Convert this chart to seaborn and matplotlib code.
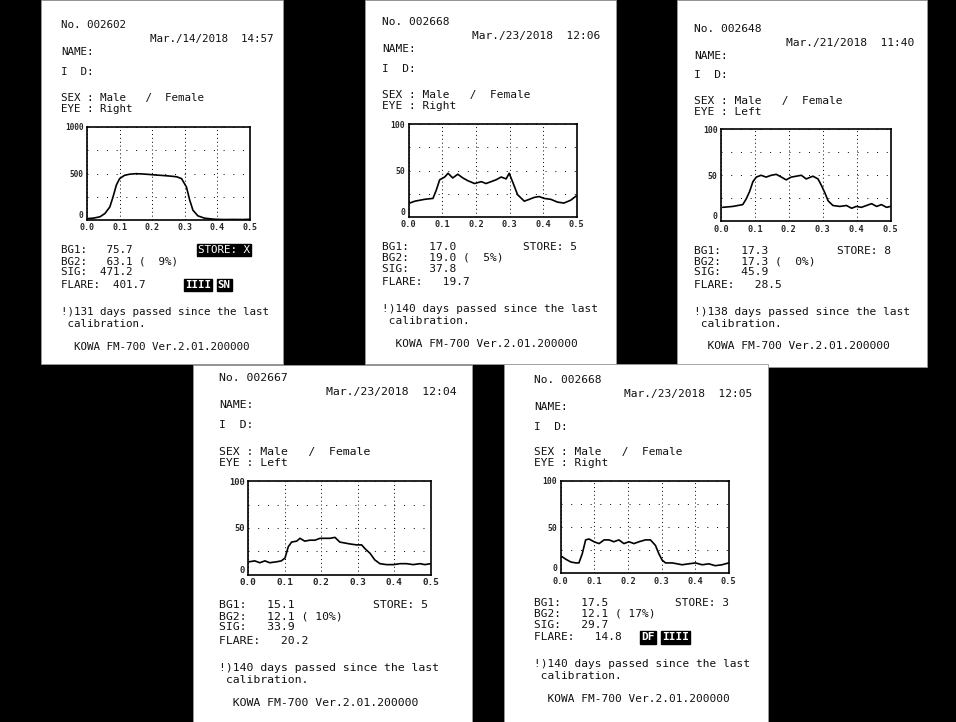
import matplotlib
matplotlib.use("Agg")
import matplotlib.pyplot as plt
from matplotlib.patches import Rectangle
import seaborn as sns
import pandas as pd

W, H = 956, 722

# ---- printout records -------------------------------------------------------
record_no = ["002602", "002668", "002648", "002667", "002668"]
stamps = ["Mar./14/2018  14:57", "Mar./23/2018  12:06", "Mar./21/2018  11:40",
          "Mar./23/2018  12:04", "Mar./23/2018  12:05"]
eyes = ["Right", "Right", "Left", "Left", "Right"]
bg1 = [75.7, 17.0, 17.3, 15.1, 17.5]
bg2 = [63.1, 19.0, 17.3, 12.1, 12.1]
bg2_pct = [9, 5, 0, 10, 17]
sig = [471.2, 37.8, 45.9, 33.9, 29.7]
flare = [401.7, 19.7, 28.5, 20.2, 14.8]
store = ["X", "5", "8", "5", "3"]
days_since_cal = [131, 140, 138, 140, 140]
y_max = [1000, 100, 100, 100, 100]
x_ticks = [0.0, 0.1, 0.2, 0.3, 0.4, 0.5]
x_tick_labels = ["0.0", "0.1", "0.2", "0.3", "0.4", "0.5"]

# ---- scan traces (time in s, photon count) ----------------------------------
t1 = [0.0, 0.02, 0.04, 0.055, 0.07, 0.08, 0.09, 0.10, 0.115, 0.13, 0.15, 0.17,
      0.19, 0.21, 0.235, 0.255, 0.275, 0.29, 0.305, 0.315, 0.325, 0.34, 0.36,
      0.39, 0.42, 0.45, 0.48, 0.5]
c1 = [15, 20, 35, 70, 140, 250, 375, 445, 480, 492, 498, 495, 490, 484, 478,
      472, 465, 445, 355, 215, 105, 45, 20, 8, 5, 6, 5, 8]

t2 = [0.003, 0.018, 0.047, 0.072, 0.082, 0.092, 0.107, 0.117, 0.131, 0.146,
      0.161, 0.176, 0.196, 0.216, 0.230, 0.245, 0.260, 0.275, 0.290, 0.299,
      0.309, 0.324, 0.344, 0.359, 0.373, 0.388, 0.403, 0.423, 0.443, 0.462,
      0.482, 0.5]
c2 = [15, 17, 19, 20, 29, 40, 43, 47, 42, 46, 42, 39, 36, 38, 36, 38, 40, 43,
      41, 47, 38, 24, 17, 19, 21, 22, 20, 19, 16, 15, 18, 23]

t3 = [0.005, 0.035, 0.064, 0.074, 0.084, 0.094, 0.104, 0.118, 0.133, 0.148,
      0.163, 0.178, 0.192, 0.207, 0.222, 0.237, 0.251, 0.271, 0.286, 0.296,
      0.306, 0.316, 0.330, 0.350, 0.370, 0.385, 0.399, 0.414, 0.429, 0.444,
      0.459, 0.473, 0.488, 0.5]
c3 = [15, 16, 18, 24, 32, 43, 48, 50, 48, 50, 51, 48, 45, 48, 49, 50, 46, 49,
      46, 39, 31, 22, 17, 16, 17, 14, 16, 15, 17, 19, 16, 18, 15, 16]

t4 = [0.003, 0.018, 0.032, 0.046, 0.059, 0.078, 0.091, 0.101, 0.110, 0.119,
      0.133, 0.142, 0.155, 0.169, 0.183, 0.197, 0.210, 0.224, 0.238, 0.251,
      0.265, 0.279, 0.297, 0.311, 0.320, 0.334, 0.347, 0.361, 0.379, 0.398,
      0.416, 0.434, 0.452, 0.471, 0.484, 0.5]
c4 = [14, 15, 13, 15, 13, 14, 15, 18, 30, 35, 36, 39, 36, 37, 37, 39, 39, 39,
      40, 35, 34, 33, 32, 32, 28, 23, 16, 12, 11, 11, 12, 12, 11, 12, 11, 12]

t5 = [0.003, 0.015, 0.030, 0.045, 0.054, 0.064, 0.074, 0.084, 0.099, 0.114,
      0.129, 0.144, 0.158, 0.173, 0.188, 0.203, 0.218, 0.233, 0.252, 0.267,
      0.282, 0.292, 0.302, 0.312, 0.332, 0.347, 0.361, 0.381, 0.401, 0.421,
      0.441, 0.460, 0.480, 0.5]
c5 = [18, 15, 12, 11, 11, 21, 36, 37, 34, 32, 36, 36, 34, 36, 32, 34, 32, 34,
      36, 36, 30, 21, 14, 11, 11, 10, 9, 10, 11, 9, 10, 8, 9, 11]

traces = [(t1, c1), (t2, c2), (t3, c3), (t4, c4), (t5, c5)]

# reverse-video marks printed on the FLARE row: (column, text)
flare_badges = [[(19, "IIII"), (24, "SN")], [], [], [], [(16, "DF"), (19, "IIII")]]

# ---- sheet geometry (pixels, y from top) ------------------------------------
sheets = [(41, 0, 283, 364), (365, 0, 616, 364), (677, 0, 927, 367),
          (193, 365, 472, 722), (504, 364, 768, 722)]
# anchor of the "No." line and horizontal / vertical scale of each photo
anchors = [(61, 25, 1.00, 1.00), (382, 22, 1.03, 1.00), (694, 29, 1.04, 0.985),
           (219, 378, 1.12, 1.01), (534, 380, 1.03, 0.99)]

sns.set_style("white")
plt.rcParams["font.family"] = ["DejaVu Sans Mono", "DejaVu Sans"]

fig = plt.figure(figsize=(W / 100, H / 100), dpi=100, facecolor="black")

for (x0, y0, x1, y1) in sheets:
    fig.patches.append(Rectangle((x0 / W, 1 - y1 / H), (x1 - x0) / W, (y1 - y0) / H,
                                 transform=fig.transFigure, facecolor="white",
                                 edgecolor="#9a9a9a", linewidth=0.6, zorder=-5))

CW = 6.53   # printer character cell width at scale 1
FS = 7.8    # matching font size in points
INK = "#111111"
BADGE = dict(boxstyle="square,pad=0.1", facecolor="black", edgecolor="black")


def put(x, y, s, size, color=INK, **kw):
    fig.text(x / W, 1 - y / H, s, fontsize=size, va="center", color=color, **kw)


for i in range(5):
    ax0, ay0, sx, sy = anchors[i]
    fs = FS * min(sx, 1.06)
    cw = CW * sx

    def row(dy):
        return ay0 + dy * sy

    put(ax0, row(0), f"No. {record_no[i]}", fs)
    put(ax0 + 212 * sx, row(14), stamps[i], fs, ha="right")
    put(ax0, row(27), "NAME:", fs)
    put(ax0, row(47), "I  D:", fs)
    put(ax0, row(73), "SEX : Male   /  Female", fs)
    put(ax0, row(84), f"EYE : {eyes[i]}", fs)

    # scan chart
    L, R = ax0 + 26 * sx, ax0 + 189 * sx
    T, B = row(102), row(195)
    ax = fig.add_axes([L / W, 1 - B / H, (R - L) / W, (B - T) / H])
    ax.set_zorder(2)
    df = pd.DataFrame({"time": traces[i][0], "count": traces[i][1]})
    sns.lineplot(data=df, x="time", y="count", ax=ax, color="black",
                 linewidth=1.2, estimator=None, sort=False)
    ym = y_max[i]
    ax.set_xlim(0, 0.5)
    ax.set_ylim(0, ym)
    ax.set_xticks(x_ticks)
    ax.set_xticklabels(x_tick_labels, fontsize=6 * sx, fontweight="bold")
    ax.set_yticks([0, ym / 4, ym / 2, 3 * ym / 4, ym])
    ax.set_yticklabels(["0", "", f"{ym // 2}", "", f"{ym}"], fontsize=5.6 * sx,
                       fontweight="bold")
    # the zero label sits just above the time-axis labels
    ax.get_yticklabels()[0].set_verticalalignment("bottom")
    ax.tick_params(length=0, pad=2.5)
    ax.set_xlabel("")
    ax.set_ylabel("")
    ax.grid(axis="x", color="black", linewidth=0.7, linestyle=(0, (1, 3)))
    ax.grid(axis="y", color="black", linewidth=0.7, linestyle=(0, (1, 9)))
    ax.set_facecolor("white")
    for sp in ax.spines.values():
        sp.set_visible(True)
        sp.set_color("black")
        sp.set_linewidth(1.2)

    # readings
    put(ax0, row(225), f"BG1:{bg1[i]:7.1f}", fs)
    if i == 0:
        put(ax0 + 21 * cw, row(225), f"STORE: {store[i]}", fs, color="white",
            bbox=BADGE)
    else:
        put(ax0 + 21 * cw, row(225), f"STORE: {store[i]}", fs)
    put(ax0, row(236), f"BG2:{bg2[i]:7.1f} ({bg2_pct[i]:3d}%)", fs)
    put(ax0, row(247), f"SIG:{sig[i]:7.1f}", fs)
    put(ax0, row(260), f"FLARE:{flare[i]:7.1f}", fs)
    for col, txt in flare_badges[i]:
        put(ax0 + col * cw, row(260), txt, fs, color="white", fontweight="bold",
            bbox=BADGE)

    put(ax0, row(287), f"!){days_since_cal[i]} days passed since the last", fs)
    put(ax0, row(299), " calibration.", fs)
    put(ax0, row(322), "  KOWA FM-700 Ver.2.01.200000", fs)

fig.savefig("out.png", dpi=100, facecolor="black")
